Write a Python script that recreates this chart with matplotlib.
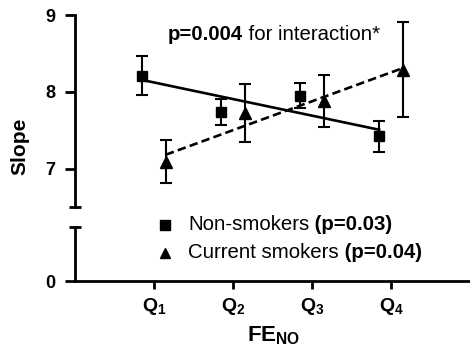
import numpy as np
import matplotlib
matplotlib.use('Agg')
import matplotlib.pyplot as plt
from matplotlib.lines import Line2D
from matplotlib.text import Annotation

plt.rcParams['font.family'] = ['Liberation Sans', 'DejaVu Sans']
plt.rcParams['mathtext.fontset'] = 'custom'
plt.rcParams['mathtext.rm'] = 'Liberation Sans'
plt.rcParams['mathtext.bf'] = 'Liberation Sans:bold'
plt.rcParams['mathtext.it'] = 'Liberation Sans:italic'

# data
quartiles = [1, 2, 3, 4]
q_labels = [r'$\mathbf{Q_1}$', r'$\mathbf{Q_2}$', r'$\mathbf{Q_3}$', r'$\mathbf{Q_4}$']
non_smokers = [8.21, 7.74, 7.95, 7.42]
non_smokers_err = [0.25, 0.17, 0.16, 0.20]
smokers = [7.09, 7.72, 7.88, 8.29]
smokers_err = [0.28, 0.38, 0.34, 0.62]
legend_labels = ['Non-smokers', 'Current smokers']
legend_p = ['(p=0.03)', '(p=0.04)']

W, H = 470, 350


def px_rect(x0, y0, x1, y1):
    # pixel box (top-left origin) -> figure fraction rect
    return [x0 / W, 1 - y1 / H, (x1 - x0) / W, (y1 - y0) / H]


def append_text(after, s, **kw):
    # put a second text right after another one (same baseline)
    a = Annotation(s, xy=(1, 0), xycoords=after, va='bottom', ha='left', **kw)
    fig.add_artist(a)
    return a


fig = plt.figure(figsize=(W / 100, H / 100), dpi=100)
ax = fig.add_axes(px_rect(75, 15, 470, 207))
axb = fig.add_axes(px_rect(75, 227, 470, 281))

offset = 0.15
xs_n = np.array(quartiles) - offset
xs_s = np.array(quartiles) + offset

ax.errorbar(xs_n, non_smokers, yerr=non_smokers_err, fmt='s', color='black',
            ms=7.5, elinewidth=1.5, capsize=4.3, capthick=1.5, zorder=3)
ax.errorbar(xs_s, smokers, yerr=smokers_err, fmt='^', color='black',
            ms=8, elinewidth=1.5, capsize=4.3, capthick=1.5, zorder=3)

# linear trend through each group
for xs, ys, ls in [(xs_n, non_smokers, '-'), (xs_s, smokers, (0, (3.2, 1.6)))]:
    k, b = np.polyfit(xs, ys, 1)
    xx = np.array([xs[0], xs[-1]])
    ax.plot(xx, k * xx + b, color='black', lw=1.9, ls=ls, zorder=2)

ax.set_xlim(0, 5)
ax.set_ylim(6.5, 9)
ax.set_yticks([7, 8, 9])
ax.spines[['top', 'right', 'bottom']].set_visible(False)
ax.spines['left'].set_linewidth(2)
ax.tick_params(axis='y', width=2, length=7, pad=7, labelsize=13)
ax.tick_params(axis='x', bottom=False, labelbottom=False)
for lbl in ax.get_yticklabels():
    lbl.set_fontweight('bold')
ax.set_ylabel('Slope', fontsize=15, fontweight='bold')
ax.yaxis.set_label_coords(-0.116, 0.318)

axb.set_xlim(0, 5)
axb.set_ylim(0, 0.7)
axb.set_yticks([0])
axb.set_xticks(quartiles)
axb.set_xticklabels(q_labels)
axb.spines[['top', 'right']].set_visible(False)
axb.spines['left'].set_linewidth(2)
axb.spines['bottom'].set_linewidth(2)
axb.tick_params(axis='y', width=2, length=7, pad=7, labelsize=13)
axb.tick_params(axis='x', width=2, length=6, pad=5, labelsize=14)
for lbl in axb.get_yticklabels():
    lbl.set_fontweight('bold')
axb.set_xlabel(r'$\mathbf{FE_{NO}}$', fontsize=16)
axb.xaxis.set_label_coords(0.504, -0.8)

# axis break caps
ax.plot([0], [6.5], marker='_', ms=8.6, mew=2, color='black', clip_on=False,
        transform=ax.get_yaxis_transform())
axb.plot([0], [1], marker='_', ms=8.6, mew=2, color='black', clip_on=False,
         transform=axb.transAxes)

# interaction note
t1 = fig.text(168 / W, 1 - 40 / H, 'p=0.004', fontsize=14.7, fontweight='bold', va='baseline')
append_text(t1, ' for interaction*', fontsize=14.7)

# legend drawn by hand (mixed weights in labels)
for marker, ms, yc, yb, lab, p in zip(['s', '^'], [7.5, 7], [225, 253], [230, 258],
                                      legend_labels, legend_p):
    fig.add_artist(Line2D([165 / W], [1 - yc / H], marker=marker, ms=ms, color='black',
                          ls='none', transform=fig.transFigure))
    tl = fig.text(188 / W, 1 - yb / H, lab, fontsize=14.7, va='baseline')
    append_text(tl, ' ' + p, fontsize=14.7, fontweight='bold')

fig.savefig('out.png', dpi=100)
